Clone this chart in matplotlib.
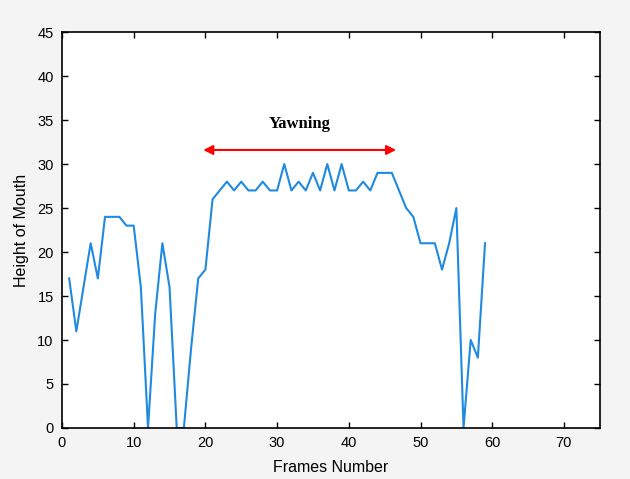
import matplotlib
matplotlib.use('Agg')
import matplotlib.pyplot as plt

# mouth height per frame
frames = list(range(1, 60))
height = [17, 11, 16, 21, 17, 24, 24, 24, 23, 23,
          16, 0, 13, 21, 16, 0, 0, 9, 17, 18,
          26, 27, 28, 27, 28, 27, 27, 28, 27, 27,
          30, 27, 28, 27, 29, 27, 30, 27, 30, 27,
          27, 28, 27, 29, 29, 29, 27, 25, 24, 21,
          21, 21, 18, 21, 25, 0, 10, 8, 21]

yawn_start, yawn_end, yawn_level = 19.7, 46.6, 31.6
yawn_label = 'Yawning'

fig = plt.figure(figsize=(6.3, 4.79), dpi=100, facecolor='#f4f4f4')
ax = fig.add_axes([0.0984, 0.1065, 0.8536, 0.8265])
ax.plot(frames, height, color='#1f8ae0', lw=1.5)

ax.annotate('', xy=(yawn_start, yawn_level), xytext=(yawn_end, yawn_level),
            arrowprops=dict(arrowstyle='<|-|>', color='red', lw=1.5,
                            mutation_scale=14, shrinkA=0, shrinkB=0))
ax.text((yawn_start + yawn_end) / 2, 34.5, yawn_label, ha='center', va='center',
        family='Liberation Serif', fontsize=12, fontweight='bold')

ax.set_xlim(0, 75)
ax.set_ylim(0, 45)
ax.set_xticks(range(0, 71, 10))
ax.set_yticks(range(0, 46, 5))
ax.tick_params(direction='in', top=True, right=True, length=4, width=1,
               labelsize=10.5, pad=6)
for lab in ax.get_xticklabels() + ax.get_yticklabels():
    lab.set_family('Liberation Sans')
for s in ax.spines.values():
    s.set_linewidth(1.2)

ax.set_xlabel('Frames Number', family='Liberation Sans', fontsize=11.5, labelpad=7)
ax.set_ylabel('Height of Mouth', family='Liberation Sans', fontsize=11.5, labelpad=6)

plt.savefig('out.png', dpi=100, facecolor=fig.get_facecolor())
